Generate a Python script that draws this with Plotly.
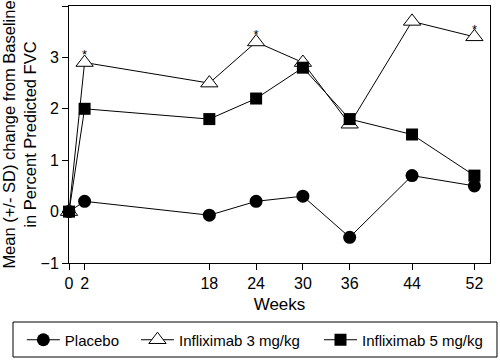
import plotly.graph_objects as go

weeks = [0, 2, 18, 24, 30, 36, 44, 52]
placebo = [0, 0.2, -0.07, 0.2, 0.3, -0.5, 0.7, 0.5]
inflix3 = [0, 2.9, 2.5, 3.3, 2.9, 1.7, 3.7, 3.4]
inflix5 = [0, 2.0, 1.8, 2.2, 2.8, 1.8, 1.5, 0.7]
signif_weeks = [2, 24, 52]
tick_vals_x = [0, 2, 18, 24, 30, 36, 44, 52]
tick_vals_y = [-1, 0, 1, 2, 3, 4]

FONT = "Liberation Sans, Arial, sans-serif"

fig = go.Figure()
fig.add_trace(go.Scatter(
    x=weeks, y=placebo, name="Placebo", mode="lines+markers",
    line=dict(color="black", width=1),
    marker=dict(symbol="circle", size=13, color="black"),
    cliponaxis=False, legend="legend"))
fig.add_trace(go.Scatter(
    x=weeks, y=inflix3, name="Infliximab 3 mg/kg", mode="lines+markers",
    line=dict(color="black", width=1),
    marker=dict(symbol="triangle-up", size=15, color="white",
                line=dict(color="black", width=1)),
    cliponaxis=False, legend="legend2"))
fig.add_trace(go.Scatter(
    x=weeks, y=inflix5, name="Infliximab 5 mg/kg", mode="lines+markers",
    line=dict(color="black", width=1),
    marker=dict(symbol="square", size=12, color="black"),
    cliponaxis=False, legend="legend3"))

sig_y = [inflix3[weeks.index(w)] for w in signif_weeks]
fig.add_trace(go.Scatter(
    x=signif_weeks, y=sig_y, mode="text", text=["*"] * len(signif_weeks),
    textposition="top center", textfont=dict(size=13, color="black", family=FONT),
    showlegend=False, hoverinfo="skip", cliponaxis=False))

# legend frame box
fig.add_shape(type="rect", xref="paper", yref="paper",
              x0=-0.1330, x1=1.0166, y0=-0.3658, y1=-0.2296,
              line=dict(color="black", width=1), fillcolor="rgba(0,0,0,0)")

def leg(x):
    return dict(orientation="h", x=x, xanchor="left", y=-0.2996, yanchor="middle",
                borderwidth=0, bgcolor="rgba(0,0,0,0)", itemwidth=33,
                font=dict(size=15, family=FONT))

fig.update_layout(
    width=500, height=361,
    margin=dict(l=69, r=10, t=6, b=98, autoexpand=False),
    paper_bgcolor="white", plot_bgcolor="white",
    font=dict(family=FONT, size=16, color="black"),
    showlegend=True,
    legend=leg(-0.1120),
    legend2=leg(0.1591),
    legend3=leg(0.5938),
    xaxis=dict(range=[0, 54], tickvals=tick_vals_x, ticks="outside", ticklen=6,
               tickcolor="black", showline=True, linecolor="black", linewidth=1,
               mirror=True, showgrid=False, zeroline=False, automargin=False,
               title=dict(text="Weeks", font=dict(size=17), standoff=6),
               tickfont=dict(size=16)),
    yaxis=dict(range=[-1, 4], tickvals=tick_vals_y, ticks="outside", ticklen=6,
               tickcolor="black", showline=True, linecolor="black", linewidth=1,
               mirror=True, showgrid=False, zeroline=False, automargin=False,
               title=dict(text="Mean (+/- SD) change from Baseline<br>in Percent Predicted FVC",
                          font=dict(size=16.5), standoff=4),
               tickfont=dict(size=16)),
)

fig.write_html("out.html", config={"displayModeBar": False},
               post_script="document.body.style.margin='0';")
